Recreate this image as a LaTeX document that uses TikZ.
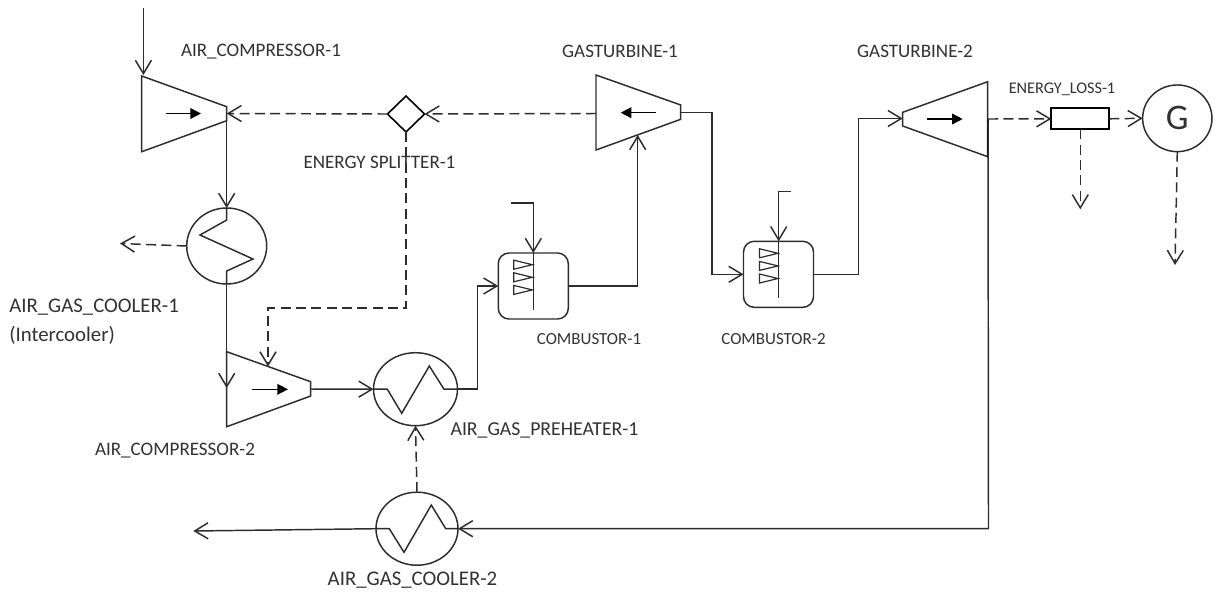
\documentclass[tikz,border=0pt]{standalone}
\usepackage{fontspec}
\setmainfont{Carlito}
\usetikzlibrary{arrows.meta,shapes.geometric}
\definecolor{ink}{RGB}{45,45,45}
\definecolor{txt}{RGB}{50,50,50}
\tikzset{
  line/.style={draw=ink,line width=1.1pt,>={Straight Barb[length=10pt,width=12pt,line width=1.1pt]}},
  power/.style={line,dash pattern=on 7.5pt off 4pt},
  body/.style={draw=ink,line width=1.1pt,fill=white,line join=miter},
  dir/.style={draw=black,line width=1.1pt,-{Triangle[length=8pt,width=8pt]}},
  hx/.style={ellipse,draw=ink,line width=1.1pt,inner sep=0,outer sep=0},
  burner/.style={rectangle,rounded corners=8pt,draw=ink,line width=1.1pt,inner sep=0,outer sep=0,minimum width=52.5pt,minimum height=49.5pt},
  lbl/.style={text=txt,font=\fontsize{14.3pt}{17pt}\selectfont,inner sep=0,anchor=center},
  wlbl/.style={text=txt,font=\fontsize{15.6pt}{18pt}\selectfont,inner sep=0,anchor=center},
  plbl/.style={text=txt,font=\fontsize{14.8pt}{18pt}\selectfont,inner sep=0,anchor=center},
  slbl/.style={text=txt,font=\fontsize{12.7pt}{15pt}\selectfont,inner sep=0,anchor=center},
  elbl/.style={text=txt,font=\fontsize{12.2pt}{15pt}\selectfont,inner sep=0,anchor=center},
  noz/.style={draw=ink,line width=0.9pt}
}
\newcommand{\nozzles}[2]{% tip x, first y
  \foreach \d in {0,12.6,25.2}{
    \draw[noz] (#1-18.5,#2+\d-4.5) -- (#1,#2+\d) -- (#1-18.5,#2+\d+4.5) -- cycle;
  }
}
\begin{document}
\begin{tikzpicture}[x=0.75pt,y=-0.75pt]
\useasboundingbox[fill=white] (0,0) rectangle (1217,594);

% anchors of the machines
\coordinate (ac1in) at (143.4,75);
\coordinate (ac1e) at (226.7,113.5);
\coordinate (ac1s) at (226.7,120.7);
\coordinate (ac2n) at (268,366.5);
\coordinate (ac2e) at (310.7,389);
\coordinate (ac2w) at (226.7,388);
\coordinate (gt1w) at (596,113.5);
\coordinate (gt1e) at (680.7,112.7);
\coordinate (gt1s) at (637.7,135);
\coordinate (gt2w) at (902.7,118.5);
\coordinate (gt2e) at (988,119);

% machines
\draw[body] (141.7,76) -- (226.7,106.7) -- (226.7,120.7) -- (141.7,151.7) -- cycle;
\draw[body] (226.7,351.7) -- (310.7,381.7) -- (310.7,396) -- (226.7,426.7) -- cycle;
\draw[body] (596,75) -- (680.7,105) -- (680.7,119.3) -- (596,150) -- cycle;
\draw[body] (902.7,112.3) -- (987.7,81.7) -- (987.7,156.7) -- (902.7,126) -- cycle;
\draw[draw=black,line width=2pt] (988,119) -- (988,157);
\draw[dir] (166,113.5) -- (201,113.5);
\draw[dir] (252,389.3) -- (288,389.3);
\draw[dir] (656,112.7) -- (620.7,112.7);
\draw[dir] (927.3,119) -- (962.7,119);

\node[hx,minimum width=60pt,minimum height=57pt] (cool1) at (226.7,246) {};
\node[hx,minimum width=63pt,minimum height=54.75pt] (pre) at (415.5,389.2) {};
\node[hx,minimum width=61.5pt,minimum height=54.75pt] (cool2) at (417,528.7) {};
\node[hx,minimum width=52pt,minimum height=50pt,font=\fontsize{27pt}{30pt}\selectfont,text=txt] (gen) at (1177.3,118.3) {G};
\node[diamond,draw=black,line width=1.2pt,inner sep=0,outer sep=0,minimum width=27.75pt,minimum height=27pt] (split) at (406,114) {};
\node[rectangle,draw=black,line width=1.3pt,inner sep=0,outer sep=0,minimum width=43.5pt,minimum height=15.75pt] (loss) at (1080.3,118.8) {};
\node[burner] (comb1) at (533.3,286) {};
\node[burner] (comb2) at (778.5,274.3) {};

% free ends and bends
\coordinate (airin) at (143.4,8);
\coordinate (cool1out) at (120,243.5);
\coordinate (fuel1) at (510.7,203);
\coordinate (fuel2) at (790.7,191.7);
\coordinate (stack) at (193.3,531);
\coordinate (lossout) at (1080.3,209.3);
\coordinate (genout) at (1175,265);

% heat exchanger coils
\draw[line] (cool1.north) -- (226.7,220) -- (200,235) -- (253,259) -- (226.7,271) -- (cool1.south);
\draw[line] (pre.west) -- (387.3,389.2) -- (401.7,413.3) -- (429.3,366) -- (444,389.2) -- (pre.east);
\draw[line] (cool2.west) -- (389.3,528.7) -- (404,552.3) -- (431.3,505) -- (445.7,528.7) -- (cool2.east);

% burners
\draw[line] (533.3,252.7) -- (533.3,310);
\draw[line] (778.7,241.3) -- (778.7,298);
\nozzles{532.3}{264.7}
\nozzles{778}{253.3}

% material streams
\draw[line,->] (airin) -- (ac1in);
\draw[line,->] (ac1s) -- (cool1.north);
\draw[line,->] (cool1.south) -- (ac2w);
\draw[line,->] (ac2e) -- (pre.west);
\draw[line,->] (pre.east) -- (477.7,389.2) -- (477.7,286) -- (comb1.west);
\draw[line,->] (fuel1) -- (533.3,203) -- (comb1.north);
\draw[line,->] (comb1.east) -- (gt1s |- comb1.east) -- (gt1s);
\draw[line,->] (gt1e) -- (712,112.7) -- (712,274.3) -- (comb2.west);
\draw[line,->] (fuel2) -- (778.7,191.7) -- (778.7,241.3);
\draw[line,->] (comb2.east) -- (858.3,274.3) -- (858.3,118.5) -- (gt2w);
\draw[line,->] (gt2e) -- (988.5,528.7) -- (cool2.east);
\draw[line,->] (cool2.west) -- (stack);

% energy streams
\draw[power,->] (split.west) -- (ac1e);
\draw[power,->] (gt1w) -- (split.east);
\draw[power,->] (split.south) -- (406,308) -- (268,308) -- (ac2n);
\draw[power,->] (cool2.north) -- (pre.south);
\draw[power,->] (cool1.west) -- (cool1out);
\draw[power,->] (gt2e) -- (loss.west);
\draw[power,->] (loss.east) -- (gen.west);
\draw[power,->] (loss.south) -- (lossout);
\draw[power,->] (gen.south) -- (genout);

% labels
\node[lbl] (t1) at (261,52) {AIR\_COMPRESSOR-1};
\node[lbl] (t2) at (620,51) {GASTURBINE-1};
\node[lbl] (t3) at (915,51) {GASTURBINE-2};
\node[elbl] (t4) at (1062,89) {ENERGY\_LOSS-1};
\node[lbl] (t5) at (379.5,162) {ENERGY SPLITTER-1};
\node[wlbl,anchor=west] (t6) at (9,307) {AIR\_GAS\_COOLER-1};
\node[wlbl,anchor=west] (t7) at (9,335) {(Intercooler)};
\node[lbl] (t8) at (175,451) {AIR\_COMPRESSOR-2};
\node[plbl] (t9) at (544.5,430) {AIR\_GAS\_PREHEATER-1};
\node[slbl] (t10) at (589,339) {COMBUSTOR-1};
\node[slbl] (t11) at (773.5,339) {COMBUSTOR-2};
\node[wlbl] (t12) at (412.5,580) {AIR\_GAS\_COOLER-2};
\end{tikzpicture}
\end{document}
